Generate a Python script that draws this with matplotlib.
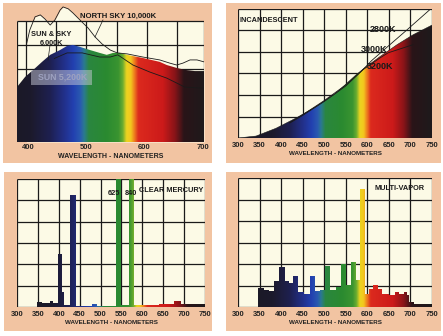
import numpy as np
import matplotlib
matplotlib.use('Agg')
import matplotlib.pyplot as plt
from matplotlib.colors import LinearSegmentedColormap
from matplotlib.patches import Rectangle, Polygon

plt.rcParams['font.family'] = ['Liberation Sans', 'DejaVu Sans']

# ---- panel 1: daylight (nm, relative energy in grid units) ----
north_sky_wl = [397, 403, 412, 421, 429, 438, 446, 455, 460, 469, 477, 489, 503, 515,
                527, 541, 553, 570, 597, 626, 643, 655, 666, 678, 690, 702]
north_sky_val = [4.01, 4.63, 5.17, 5.25, 5.08, 4.83, 5.04, 5.45, 5.58, 5.50, 5.33, 5.04,
                 4.71, 4.34, 4.05, 3.80, 3.68, 3.64, 3.51, 3.39, 3.26, 3.18, 3.26, 3.39,
                 3.39, 3.31]
sun_sky_wl = [381, 395, 409, 424, 438, 455, 467, 477, 489, 506, 523, 535, 546, 558, 570,
              580, 597, 626, 638, 655, 669, 686, 702]
sun_sky_val = [2.27, 2.69, 2.98, 3.31, 3.60, 3.80, 3.97, 4.01, 3.93, 3.80, 3.68, 3.60,
               3.68, 3.68, 3.60, 3.55, 3.47, 3.31, 3.18, 3.06, 2.98, 2.93, 2.93]
sun_wl = [445, 467, 493, 523, 541, 554, 580, 609, 638, 669, 695, 702]
sun_val = [3.45, 3.68, 3.68, 3.51, 3.51, 3.60, 3.18, 2.89, 2.64, 2.27, 2.23, 2.23]

# ---- panel 2: incandescent ----
k3200_wl = [300, 342, 388, 434, 481, 527, 574, 593, 629, 669, 706, 750]
k3200_val = [0, 0.09, 0.45, 0.92, 1.46, 2.08, 2.94, 3.25, 3.78, 4.34, 4.80, 5.25]
k2800_wl = [420, 450, 500, 550, 585, 610, 650, 692, 745]
k2800_val = [0.70, 1.05, 1.70, 2.42, 3.08, 3.60, 4.30, 5.03, 5.97]
k3000_wl = [420, 450, 500, 550, 590, 629, 648, 706]
k3000_val = [0.72, 1.08, 1.74, 2.47, 3.18, 3.72, 3.96, 4.34]

# ---- panel 3: clear mercury (step edges nm / heights) ----
hg_edges = [347, 360, 379, 386, 398, 408, 412, 428, 441, 480, 492, 537, 550, 567, 580,
            600, 640, 676, 692, 705, 750]
hg_heights = [0.25, 0.20, 0.28, 0.20, 2.48, 0.70, 0.08, 5.23, 0.06, 0.13, 0.07, 7.0,
              0.08, 7.0, 0.08, 0.10, 0.15, 0.26, 0.14, 0.12]

# ---- panel 4: multi-vapor ----
mv_edges = [346, 360, 372, 383, 394, 408, 418, 428, 439, 452, 466, 478, 490, 501, 513,
            528, 540, 551, 563, 574, 583, 595, 605, 614, 625, 635, 650, 665, 673, 684,
            692, 697, 708, 750]
mv_heights = [0.88, 0.80, 0.74, 1.21, 1.87, 1.20, 1.12, 1.46, 0.68, 0.62, 1.46, 0.73,
              0.78, 1.92, 0.78, 0.95, 1.98, 1.03, 2.10, 1.25, 5.50, 0.62, 0.85, 1.02,
              0.85, 0.62, 0.55, 0.72, 0.62, 0.72, 0.55, 0.25, 0.14]

ticks_wide = [300, 350, 400, 450, 500, 550, 600, 650, 700, 750]
ticks_day = [400, 500, 600, 700]

PEACH = '#f2c4a2'
CREAM = '#fcfae6'
INK = '#1a1a1a'

spec_stops = [(300, '#1a1820'), (380, '#1c1a2c'), (420, '#1e2050'), (450, '#22308a'),
              (470, '#2240b0'), (485, '#2a5ab0'), (493, '#2a7a90'), (503, '#2a8640'),
              (540, '#2a8a30'), (566, '#3a9430'), (575, '#6aac30'), (583, '#ecd420'),
              (592, '#f2c81e'), (600, '#ee7a1e'), (608, '#dc2a1e'), (660, '#cc1a1a'),
              (685, '#8a1418'), (705, '#2a1418'), (750, '#1e1a1c')]
spec_cmap = LinearSegmentedColormap.from_list(
    'spec', [((w - 300) / 450, c) for w, c in spec_stops])

W, H = 443, 336
fig = plt.figure(figsize=(W / 100, H / 100), dpi=100)
fig.patch.set_facecolor('white')


def rect(x0, y0, x1, y1):
    return [x0 / W, 1 - y1 / H, (x1 - x0) / W, (y1 - y0) / H]


for x0, y0, x1, y1 in [(3, 3, 212, 163), (226, 3, 441, 163), (4, 172, 212, 331), (226, 172, 441, 331)]:
    r = rect(x0, y0, x1, y1)
    fig.patches.append(Rectangle((r[0], r[1]), r[2], r[3], transform=fig.transFigure,
                                 facecolor=PEACH, edgecolor='none', zorder=-5))


def spectral_fill(ax, xs, ys, scale=1.0, shift=0):
    # colour of each column comes from its wavelength (optionally warped)
    xs = np.asarray(xs, float)
    ys = np.asarray(ys, float)
    verts = np.column_stack([np.r_[xs, xs[-1], xs[0]], np.r_[ys, 0, 0]])
    poly = Polygon(verts, closed=True, facecolor='none', edgecolor='none')
    ax.add_patch(poly)
    x0, x1 = ax.get_xlim()
    y0, y1 = ax.get_ylim()
    wl = np.linspace(x0, x1, 900)
    rgb = spec_cmap(np.clip((wl * scale + shift - 300) / 450, 0, 1))[None, :, :3]
    im = ax.imshow(rgb, extent=[x0, x1, y0, y1], aspect='auto', origin='lower',
                   interpolation='bilinear', zorder=3)
    im.set_clip_path(poly)
    ax.set_xlim(x0, x1)
    ax.set_ylim(y0, y1)


def steps(edges, heights):
    e = np.asarray(edges, float)
    h = np.asarray(heights, float)
    return np.repeat(e, 2)[1:-1], np.repeat(h, 2)


def style(ax, ticks, pad, lsize):
    for s in ax.spines.values():
        s.set_visible(False)
    ax.patch.set_visible(False)
    ax.set_yticks([])
    ax.set_xticks(ticks)
    ax.set_xticklabels([str(t) for t in ticks], fontsize=5.5, fontweight='bold', color='#222222')
    ax.tick_params(axis='x', length=0, pad=pad)
    ax.set_xlabel('WAVELENGTH - NANOMETERS', fontsize=lsize, fontweight='bold',
                  color='#222222', labelpad=1.5)


def grid(ax, xs, ny, x0, x1):
    ax.add_patch(Rectangle((x0, 0), x1 - x0, ny, facecolor=CREAM, edgecolor='none', zorder=1))
    ax.vlines(xs, 0, ny, color=INK, lw=0.9, zorder=2)
    ax.hlines(range(ny + 1), x0, x1, color=INK, lw=0.9, zorder=2)


txt = dict(fontsize=5.3, fontweight='bold', color=INK, zorder=6)
big = dict(fontsize=6.5, fontweight='bold', color=INK, zorder=6)

# ---------- panel 1 ----------
ax1 = fig.add_axes(rect(17, 4, 204, 142))
ax1.set_xlim(381, 702)
ax1.set_ylim(0, 5.70)
ax1.fill_between(north_sky_wl, north_sky_val, 0, color=CREAM, lw=0, zorder=1)
grid(ax1, [381, 396, 448, 500, 552, 604, 656, 702], 5, 381, 702)
ax1.plot(north_sky_wl, north_sky_val, color=INK, lw=0.6, zorder=4)
spectral_fill(ax1, sun_sky_wl, sun_sky_val, scale=1.233, shift=-119)
ax1.plot(sun_wl, sun_val, color=INK, lw=0.6, zorder=4)
ax1.plot([528.6, 514.9], [5.04, 4.34], color=INK, lw=0.5, zorder=4)
ax1.plot([437.7, 434.3], [4.01, 3.39], color=INK, lw=0.5, zorder=4)
ax1.text(489, 5.21, 'NORTH SKY 10,000K', ha='left', va='center',
         fontsize=5.6, fontweight='bold', color=INK, zorder=6)
ax1.text(440, 4.42, 'SUN & SKY', ha='center', va='center', **txt)
ax1.text(440, 4.08, '6,000K', ha='center', va='center', **txt)
ax1.add_patch(Rectangle((405, 2.36), 104, 0.62, facecolor='#c8cad8', alpha=0.5,
                        edgecolor='none', zorder=5))
ax1.text(459, 2.67, 'SUN 5,200K', ha='center', va='center', fontsize=6.3,
         fontweight='bold', color='#9ea2c0', zorder=6)
style(ax1, ticks_day, 1.5, 5.0)

# ---------- panel 2 ----------
ax2 = fig.add_axes(rect(238, 9, 432, 138))
ax2.set_xlim(300, 750)
ax2.set_ylim(0, 6)
grid(ax2, ticks_wide, 6, 300, 750)
spectral_fill(ax2, k3200_wl, k3200_val)
ax2.plot(k3200_wl, k3200_val, color=INK, lw=0.4, zorder=4)
ax2.plot(k2800_wl, k2800_val, color=INK, lw=0.6, zorder=4)
ax2.plot(k3000_wl, k3000_val, color=INK, lw=0.6, zorder=4)
ax2.plot([670, 690], [5.03, 5.03], color=INK, lw=0.5, zorder=4)
ax2.text(304, 5.45, 'INCANDESCENT', ha='left', va='center', **txt)
ax2.text(636, 5.03, '2800K', ha='center', va='center', **big)
ax2.text(615, 4.10, '3000K', ha='center', va='center', **big)
ax2.text(629, 3.31, '3200K', ha='center', va='center', **big)
style(ax2, ticks_wide, 3, 4.5)

# ---------- panel 3 ----------
ax3 = fig.add_axes(rect(17, 179, 205, 307))
ax3.set_xlim(300, 750)
ax3.set_ylim(0, 6)
grid(ax3, ticks_wide, 6, 300, 750)
sx, sy = steps(hg_edges, hg_heights)
spectral_fill(ax3, sx, sy, shift=-4)
ax3.text(532, 5.30, '625', ha='center', va='center', **txt)
ax3.text(573, 5.30, '840', ha='center', va='center', **txt)
ax3.text(592, 5.44, 'CLEAR MERCURY', ha='left', va='center', **txt)
style(ax3, ticks_wide, 3, 4.5)

# ---------- panel 4 ----------
ax4 = fig.add_axes(rect(238, 178, 432, 307))
ax4.set_xlim(300, 750)
ax4.set_ylim(0, 6)
grid(ax4, ticks_wide, 6, 300, 750)
sx, sy = steps(mv_edges, mv_heights)
spectral_fill(ax4, sx, sy)
ax4.text(616, 5.49, 'MULTI-VAPOR', ha='left', va='center', **txt)
style(ax4, ticks_wide, 3, 4.5)

fig.savefig('out.png', dpi=100, facecolor='white')
